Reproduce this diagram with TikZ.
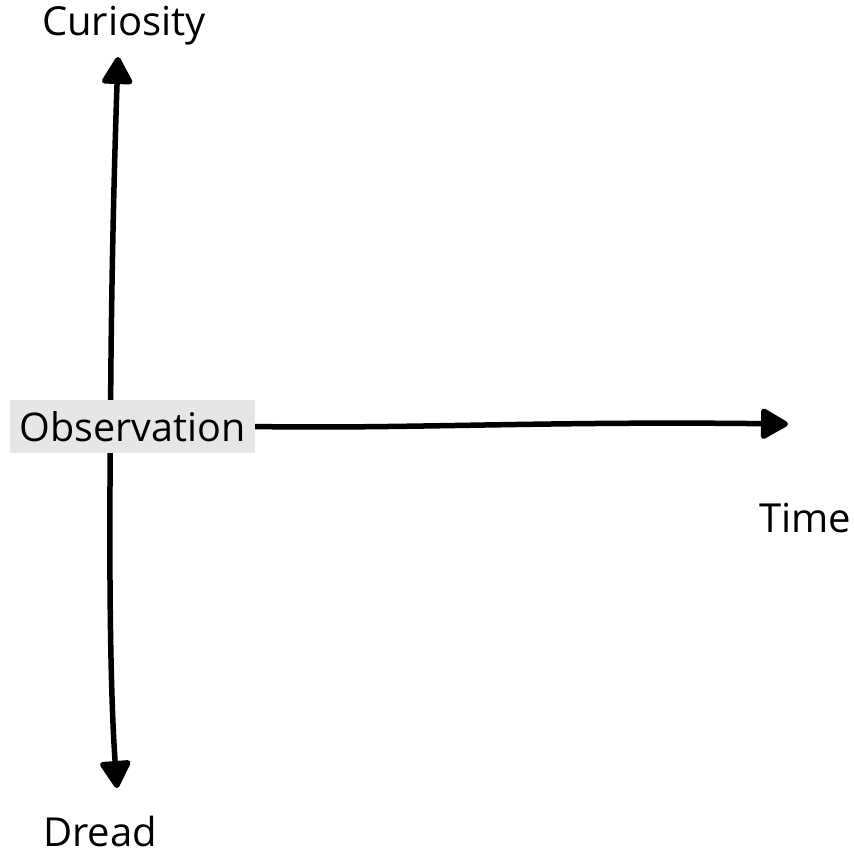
\documentclass[tikz,border=0pt]{standalone}
\usepackage{fontspec}
\setmainfont{Open Sans}
\usetikzlibrary{arrows.meta,backgrounds}
\definecolor{boxgray}{HTML}{E6E6E6}
\tikzset{
  axis/.style={line width=5.5pt, line cap=round, line join=round,
    -{Triangle[length=30pt,width=33pt,round]}},
  lbl/.style={font=\fontsize{40}{46}\selectfont, inner sep=0pt},
  obsbox/.style={fill=boxgray, font=\fontsize{39.5}{46}\selectfont,
    minimum width=245pt, minimum height=53pt, inner sep=0pt}
}
\begin{document}
\begin{tikzpicture}[x=1pt,y=-1pt]
\useasboundingbox (0,0) rectangle (854,854);
\node[obsbox] (obs) at (132.5,426.5) {Observation};
\node[lbl] (cur) at (124,26) {Curiosity};
\node[lbl] (tim) at (805,518) {Time};
\node[lbl] (dre) at (100,831) {Dread};
\coordinate (cmid) at ([xshift=-22pt]obs.center);
\coordinate (ctop) at (118,57);
\coordinate (cbot) at (117,788);
\coordinate (cright) at (788,424);
\begin{scope}[on background layer]
\draw[axis] (cmid) .. controls (111,300) and (114,170) .. (ctop);
\draw[axis] (cmid) .. controls (109,560) and (110,690) .. (cbot);
\draw[axis] (obs.east) .. controls (400,429) and (550,421) .. (cright);
\end{scope}
\end{tikzpicture}
\end{document}
